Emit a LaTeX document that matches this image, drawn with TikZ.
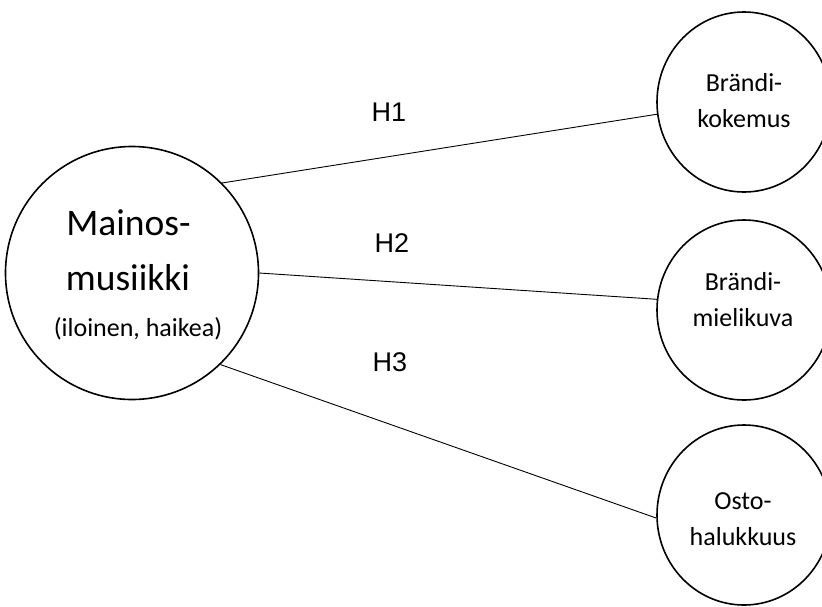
\documentclass[tikz,border=0pt]{standalone}
\usepackage{fontspec}
\setmainfont{Carlito}
\newfontfamily\arialf{Liberation Sans}
\usetikzlibrary{shapes.geometric}
\begin{document}
\begin{tikzpicture}[x=1pt,y=-1pt,
  bigc/.style={circle, draw, line width=1.6pt, minimum size=253pt, inner sep=0pt},
  smallc/.style={ellipse, draw, line width=1.6pt, minimum width=174pt, minimum height=180pt, inner sep=0pt},
  conn/.style={line width=0.9pt},
  hlab/.style={font=\arialf\fontsize{27}{32}\selectfont, inner sep=0pt},
  bigtxt/.style={font=\fontsize{37.5}{40}\selectfont, inner sep=0pt},
  smalltxt/.style={font=\fontsize{26}{36}\selectfont, align=center, inner sep=0pt}
]
\useasboundingbox (0,0) rectangle (822,606);
\clip (0,0) rectangle (822,606);
\node[bigc] (mm) at (132,273) {};
\node[bigtxt] (t1) at (128.5,223) {Mainos-};
\node[bigtxt] (t2) at (128,278) {musiikki};
\node[smalltxt] (t3) at (138,329) {(iloinen, haikea)};

\node[smallc] (bk) at (744,102) {};
\node[smallc] (bm) at (744,310) {};
\node[smallc] (oh) at (744,515) {};

\node[smalltxt] (bkt) at (744,101) {Brändi-\\kokemus};
\node[smalltxt] (bmt) at (743,300) {Brändi-\\mielikuva};
\node[smalltxt] (oht) at (743,519) {Osto-\\halukkuus};

\draw[conn] (mm.45) -- (bk.188);
\draw[conn] (mm.east) -- (bm.173);
\draw[conn] (mm.-46) -- (oh.182);

\node[hlab] (h1) at (389,112) {H1};
\node[hlab] (h2) at (392,243) {H2};
\node[hlab] (h3) at (390,362) {H3};
\end{tikzpicture}
\end{document}
